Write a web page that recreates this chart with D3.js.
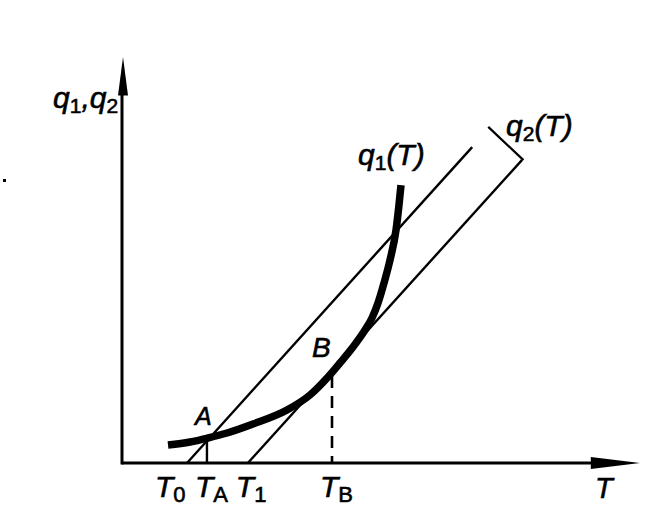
<!DOCTYPE html>
<html>
<head>
<meta charset="utf-8">
<script src="https://cdn.jsdelivr.net/npm/d3@7/dist/d3.min.js"></script>
<style>
  html, body { margin: 0; padding: 0; background: #fff; }
  svg { display: block; }
  text { font-family: "Liberation Sans", Arial, sans-serif; font-style: italic; fill: #000; stroke: #000; stroke-width: 0.6px; }
</style>
</head>
<body>
<svg id="chart" width="670" height="523"></svg>
<script>
// ---- data (abstract units: T along x, q along y) ----
const tickValues = [1.255, 1.64, 2.43, 4.054];
const tickSubs   = ["0", "A", "1", "B"];
const q1Curve = [
  [0.888, 0.443], [1.313, 0.517], [1.660, 0.616], [2.027, 0.739], [2.529, 0.961],
  [3.185, 1.305], [3.629, 1.675], [3.977, 2.118], [4.208, 2.463], [4.459, 2.857],
  [4.691, 3.276], [4.826, 3.571], [4.942, 3.941], [5.058, 4.433], [5.174, 5.000],
  [5.290, 5.739], [5.347, 6.355], [5.386, 6.847]
];
const tangentLine = [[1.255, 0], [6.76, 7.78]];   // line through T0 and A
const q2Line      = [[2.43, 0], [7.72, 7.46]];    // q2(T), through T1 and B
const q2Leader    = [[7.07, 8.28], [7.75, 7.46]];
const pointA = [1.64, 0.616];
const pointB = [4.054, 2.24];

// ---- layout ----
const svg = d3.select("#chart");
const x = d3.scaleLinear().domain([0, 10]).range([122, 640]);
const y = d3.scaleLinear().domain([0, 10]).range([463, 57]);
const line = d3.line().x(d => x(d[0])).y(d => y(d[1]));

// stray scan dot
svg.append("rect").attr("x", 3).attr("y", 179).attr("width", 3).attr("height", 3).attr("fill", "#000");

// axes
svg.append("line").attr("x1", x(0)).attr("x2", x(9.1)).attr("y1", y(0)).attr("y2", y(0))
  .attr("stroke", "#000").attr("stroke-width", 3);
svg.append("line").attr("x1", x(0)).attr("x2", x(0)).attr("y1", y(0) + 1.5).attr("y2", y(9.2))
  .attr("stroke", "#000").attr("stroke-width", 3);
// arrowheads
svg.append("path")
  .attr("d", `M${x(10)},${y(0)} L${x(9.05)},${y(0) - 6} L${x(9.05)},${y(0) + 6} Z`)
  .attr("fill", "#000");
svg.append("path")
  .attr("d", `M${x(0) + 1},${y(10)} L${x(0) - 4},${y(9.05)} L${x(0) + 6},${y(9.05)} Z`)
  .attr("fill", "#000");

// straight lines
svg.append("path").attr("d", line(tangentLine)).attr("fill", "none").attr("stroke", "#000").attr("stroke-width", 2.4);
svg.append("path").attr("d", line(q2Line)).attr("fill", "none").attr("stroke", "#000").attr("stroke-width", 2.4);
svg.append("path").attr("d", line(q2Leader)).attr("fill", "none").attr("stroke", "#000").attr("stroke-width", 2.2);

// drop lines
svg.append("line").attr("x1", x(pointA[0])).attr("x2", x(pointA[0]))
  .attr("y1", y(pointA[1])).attr("y2", y(0)).attr("stroke", "#000").attr("stroke-width", 2.4);
svg.append("line").attr("x1", x(pointB[0])).attr("x2", x(pointB[0]))
  .attr("y1", y(pointB[1]) + 4).attr("y2", y(0)).attr("stroke", "#000").attr("stroke-width", 2.6)
  .attr("stroke-dasharray", "12,8");

// q1 curve
svg.append("path").datum(q1Curve)
  .attr("d", d3.line().x(d => x(d[0])).y(d => y(d[1])).curve(d3.curveMonotoneX))
  .attr("fill", "none").attr("stroke", "#000").attr("stroke-width", 7.5);

// helper for text with subscript
function label(px, py, parts, size, subSize) {
  const t = svg.append("text").attr("x", px).attr("y", py).attr("font-size", size);
  let shifted = false;
  parts.forEach(p => {
    const ts = t.append("tspan").text(p.t);
    if (p.sub && !shifted) { ts.attr("dy", 5).attr("font-size", subSize).attr("font-style", "normal"); shifted = true; }
    else if (!p.sub && shifted) { ts.attr("dy", -5); shifted = false; }
    else if (p.sub) { ts.attr("font-size", subSize).attr("font-style", "normal"); }
  });
  return t;
}

// tick labels
tickValues.forEach((v, i) => {
  const off = i === 0 ? -32 : -12;
  label(x(v) + off, 497, [{t: "T"}, {t: tickSubs[i], sub: true}], 30, 22);
});

// axis titles
label(53, 108, [{t: "q"}, {t: "1", sub: true}, {t: ","}, {t: "q"}, {t: "2", sub: true}], 30, 21);
label(595, 498, [{t: "T"}], 29, 21);

// curve labels
label(358, 165, [{t: "q"}, {t: "1", sub: true}, {t: "(T)"}], 30, 21);
label(506, 136, [{t: "q"}, {t: "2", sub: true}, {t: "(T)"}], 30, 21);

// point labels
svg.append("text").attr("x", x(pointA[0]) - 12).attr("y", 425).attr("font-size", 25).text("A");
svg.append("text").attr("x", x(pointB[0]) - 20).attr("y", 357).attr("font-size", 28).text("B");
</script>
</body>
</html>
